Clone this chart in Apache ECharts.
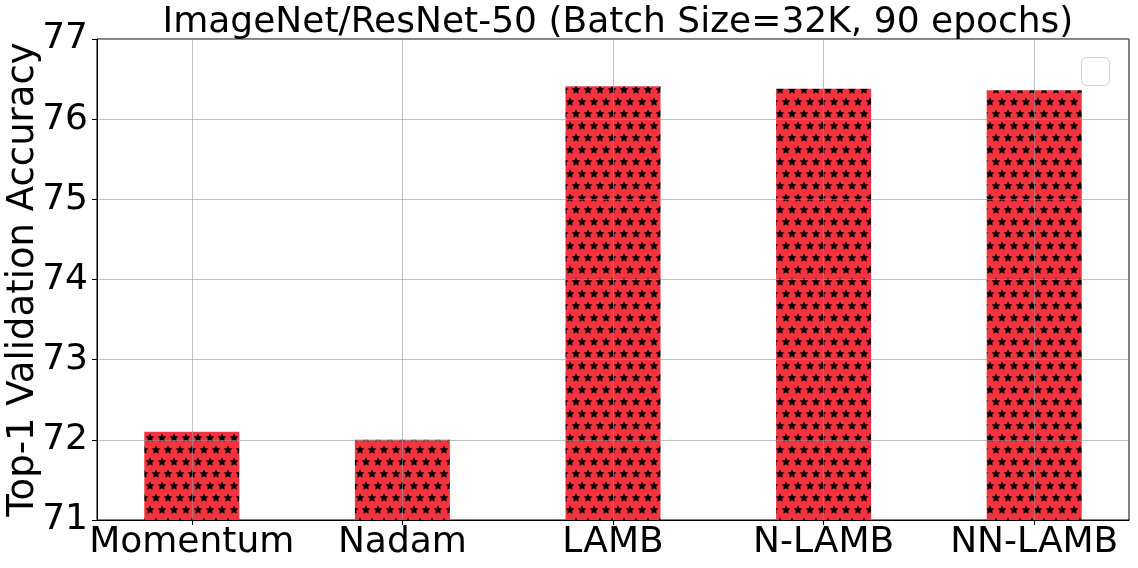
<!DOCTYPE html>
<html>
<head>
<meta charset="utf-8">
<script src="https://cdn.jsdelivr.net/npm/echarts@6/dist/echarts.min.js"></script>
<style>
  html, body { margin: 0; padding: 0; background: #fff; }
  #chart { width: 1138px; height: 568px; }
</style>
</head>
<body>
<div id="chart"></div>
<script>
// 数据
var categories = ['Momentum', 'Nadam', 'LAMB', 'N-LAMB', 'NN-LAMB']
var accuracy = [72.1, 72.0, 76.41, 76.38, 76.36]
var yTicks = [71, 72, 73, 74, 75, 76, 77]

// 红底黑星填充
function starPattern () {
  var c = document.createElement('canvas')
  c.width = 12
  c.height = 24
  var ctx = c.getContext('2d')
  ctx.fillStyle = '#f4333f'
  ctx.fillRect(0, 0, 12, 24)
  ctx.fillStyle = '#000'
  function star (cx, cy, r) {
    ctx.beginPath()
    for (var i = 0; i < 10; i++) {
      var rr = i % 2 === 0 ? r : r * 0.5
      var a = -Math.PI / 2 + i * Math.PI / 5
      ctx.lineTo(cx + rr * Math.cos(a), cy + rr * Math.sin(a))
    }
    ctx.closePath()
    ctx.fill()
  }
  star(6, 6, 4.6)
  star(0, 18, 4.6)
  star(12, 18, 4.6)
  return c
}

var chart = echarts.init(document.getElementById('chart'))
var font = 'DejaVu Sans'
var gridColor = 'rgba(150,150,150,0.6)'

chart.setOption({
  animation: false,
  title: {
    text: 'ImageNet/ResNet-50 (Batch Size=32K, 90 epochs)',
    left: 613,
    textAlign: 'center',
    top: 0,
    textStyle: { fontFamily: font, fontSize: 36, fontWeight: 'normal', color: '#000' }
  },
  grid: {
    left: 97,
    right: 9,
    top: 39,
    bottom: 48,
    outerBoundsMode: 'none',
    show: true,
    borderColor: '#000',
    borderWidth: 1
  },
  xAxis: {
    type: 'value',
    min: -0.45,
    max: 4.45,
    z: 5,
    axisLine: { onZero: false, lineStyle: { color: '#000' } },
    axisTick: { show: true, customValues: [0, 1, 2, 3, 4], length: 5, lineStyle: { color: '#000' } },
    axisLabel: {
      customValues: [0, 1, 2, 3, 4],
      formatter: function (v) { return categories[Math.round(v)] },
      fontFamily: font,
      fontSize: 36,
      color: '#000',
      margin: 5
    },
    splitLine: { show: true, lineStyle: { color: gridColor, width: 1 } }
  },
  yAxis: {
    type: 'value',
    min: 71,
    max: 77,
    interval: 1,
    z: 5,
    name: 'Top-1 Validation Accuracy',
    nameLocation: 'middle',
    nameGap: 55,
    nameMoveOverlap: false,
    nameTextStyle: { fontFamily: font, fontSize: 37, color: '#000' },
    axisLine: { show: true, onZero: false, lineStyle: { color: '#000' } },
    axisTick: { show: true, length: 5, lineStyle: { color: '#000' } },
    axisLabel: {
      fontFamily: font,
      fontSize: 36,
      color: '#000',
      margin: 9,
      formatter: function (v) { return yTicks.indexOf(v) >= 0 ? String(v) : '' }
    },
    splitLine: { show: true, lineStyle: { color: gridColor, width: 1 } }
  },
  series: [{
    type: 'bar',
    barWidth: 95,
    data: accuracy.map(function (v, i) { return [i, v] }),
    itemStyle: { color: { image: starPattern(), repeat: 'repeat' } }
  }],
  graphic: [{
    type: 'rect',
    right: 28,
    top: 57,
    shape: { width: 28, height: 28, r: 5 },
    style: { fill: '#fff', stroke: '#d0d0d0', lineWidth: 1 }
  }]
})
</script>
</body>
</html>
